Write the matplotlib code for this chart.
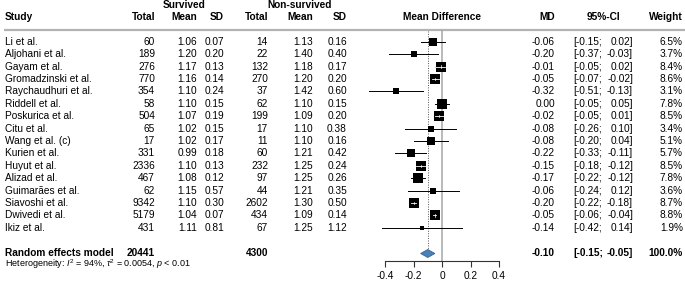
import matplotlib.pyplot as plt
import numpy as np

# forest plot data
studies = ["Li et al.", "Aljohani et al.", "Gayam et al.", "Gromadzinski et al.",
           "Raychaudhuri et al.", "Riddell et al.", "Poskurica et al.", "Citu et al.",
           "Wang et al. (c)", "Kurien et al.", "Huyut et al.", "Alizad et al.",
           "Guimarães et al.", "Siavoshi et al.", "Dwivedi et al.", "Ikiz et al."]
surv_n = [60, 189, 276, 770, 354, 58, 504, 65, 17, 331, 2336, 467, 62, 9342, 5179, 431]
surv_mean = [1.06, 1.20, 1.17, 1.16, 1.10, 1.10, 1.07, 1.02, 1.02, 0.99, 1.10, 1.08, 1.15, 1.10, 1.04, 1.11]
surv_sd = [0.07, 0.20, 0.13, 0.14, 0.24, 0.15, 0.19, 0.15, 0.17, 0.18, 0.13, 0.12, 0.57, 0.30, 0.07, 0.81]
non_n = [14, 22, 132, 270, 37, 62, 199, 17, 11, 60, 232, 97, 44, 2602, 434, 67]
non_mean = [1.13, 1.40, 1.18, 1.20, 1.42, 1.10, 1.09, 1.10, 1.10, 1.21, 1.25, 1.25, 1.21, 1.30, 1.09, 1.25]
non_sd = [0.16, 0.40, 0.17, 0.20, 0.60, 0.15, 0.20, 0.38, 0.16, 0.42, 0.24, 0.26, 0.35, 0.50, 0.14, 1.12]
md = [-0.06, -0.20, -0.01, -0.05, -0.32, 0.00, -0.02, -0.08, -0.08, -0.22, -0.15, -0.17, -0.06, -0.20, -0.05, -0.14]
ci_lo = [-0.15, -0.37, -0.05, -0.07, -0.51, -0.05, -0.05, -0.26, -0.20, -0.33, -0.18, -0.22, -0.24, -0.22, -0.06, -0.42]
ci_hi = [0.02, -0.03, 0.02, -0.02, -0.13, 0.05, 0.01, 0.10, 0.04, -0.11, -0.12, -0.12, 0.12, -0.18, -0.04, 0.14]
weight = [6.5, 3.7, 8.4, 8.6, 3.1, 7.8, 8.5, 3.4, 5.1, 5.7, 8.5, 7.8, 3.6, 8.7, 8.8, 1.9]

pooled_label = "Random effects model"
pooled_surv_n = 20441
pooled_non_n = 4300
pooled_md = -0.10
pooled_lo = -0.15
pooled_hi = -0.05
het_text = r"Heterogeneity: $I^2$ = 94%, $\tau^2$ = 0.0054, $p$ < 0.01"

x_ticks = [-0.4, -0.2, 0, 0.2, 0.4]
x_tick_labels = ["-0.4", "-0.2", "0", "0.2", "0.4"]

plt.rcParams['font.family'] = ['Liberation Sans', 'DejaVu Sans']
plt.rcParams['axes.unicode_minus'] = False
plt.rcParams['mathtext.fontset'] = 'custom'
plt.rcParams['mathtext.rm'] = 'Liberation Sans'
plt.rcParams['mathtext.it'] = 'Liberation Sans:italic'

W, H = 685, 283
fs = 7.3

fig = plt.figure(figsize=(W / 100, H / 100), dpi=100)

# full-figure axes in pixel units for the table text
tab = fig.add_axes([0, 0, 1, 1])
tab.set_xlim(0, W)
tab.set_ylim(H, 0)
tab.axis('off')

# forest axes: 0 sits at x=442 px, 142.5 px per unit, bottom axis at y=261 px
px_per_unit = 142.5
x0_px = 442
axis_y = 261
xl = (-0.6, 0.6)
left_px = x0_px + xl[0] * px_per_unit
width_px = (xl[1] - xl[0]) * px_per_unit
fp = fig.add_axes([left_px / W, (H - axis_y) / H, width_px / W, axis_y / H])
fp.set_xlim(*xl)
fp.set_ylim(axis_y, 0)
fp.patch.set_visible(False)
for s in ['top', 'left', 'right']:
    fp.spines[s].set_visible(False)
fp.spines['bottom'].set_bounds(-0.4, 0.4)
fp.spines['bottom'].set_color('#333333')
fp.spines['bottom'].set_linewidth(0.8)
fp.set_yticks([])
fp.set_xticks(x_ticks)
fp.set_xticklabels(x_tick_labels)
fp.tick_params(axis='x', length=4.3, width=0.8, color='#333333', labelsize=fs, pad=3)

row_y = 41.7 + 12.4 * np.arange(len(studies))
pooled_y = 253.5
header_line_y = 30

# header
bold = dict(fontsize=fs, fontweight='bold', va='center')
tab.text(184, 5.5, "Survived", ha='center', **bold)
tab.text(300, 5.5, "Non-survived", ha='center', **bold)
tab.text(5, 17.5, "Study", ha='left', **bold)
for x, lab in [(155, "Total"), (197, "Mean"), (224, "SD"), (268, "Total"),
               (313, "Mean"), (347, "SD"), (555, "MD"), (683, "Weight")]:
    tab.text(x, 17.5, lab, ha='right', **bold)
tab.text(442, 17.5, "Mean Difference", ha='center', **bold)
tab.text(603, 17.5, "95%-CI", ha='center', **bold)
tab.plot([4, W], [header_line_y, header_line_y], color='#b3b3b3', lw=1.6, solid_capstyle='butt')

# study rows
norm = dict(fontsize=fs, va='center')
for i, y in enumerate(row_y):
    tab.text(5, y, studies[i], ha='left', **norm)
    tab.text(155, y, f"{surv_n[i]}", ha='right', **norm)
    tab.text(197, y, f"{surv_mean[i]:.2f}", ha='right', **norm)
    tab.text(224, y, f"{surv_sd[i]:.2f}", ha='right', **norm)
    tab.text(268, y, f"{non_n[i]}", ha='right', **norm)
    tab.text(313, y, f"{non_mean[i]:.2f}", ha='right', **norm)
    tab.text(347, y, f"{non_sd[i]:.2f}", ha='right', **norm)
    tab.text(555, y, f"{md[i]:.2f}", ha='right', **norm)
    tab.text(573, y, f"[{ci_lo[i]:.2f};", ha='left', **norm)
    tab.text(633, y, f"{ci_hi[i]:.2f}]", ha='right', **norm)
    tab.text(683, y, f"{weight[i]:.1f}%", ha='right', **norm)

# pooled row
tab.text(5, pooled_y, pooled_label, ha='left', **bold)
tab.text(155, pooled_y, f"{pooled_surv_n}", ha='right', **bold)
tab.text(268, pooled_y, f"{pooled_non_n}", ha='right', **bold)
tab.text(555, pooled_y, f"{pooled_md:.2f}", ha='right', **bold)
tab.text(573, pooled_y, f"[{pooled_lo:.2f};", ha='left', **bold)
tab.text(633, pooled_y, f"{pooled_hi:.2f}]", ha='right', **bold)
tab.text(683, pooled_y, "100.0%", ha='right', **bold)
tab.text(5, 264.5, het_text, ha='left', va='center', fontsize=6.5)

# reference lines
fp.plot([0, 0], [header_line_y + 1, axis_y], color='#a6a6a6', lw=1.1, zorder=1)
fp.plot([pooled_md, pooled_md], [header_line_y + 1, pooled_y - 4], color='#555555',
        lw=0.7, ls=(0, (1, 1.5)), zorder=1)

# confidence intervals and squares (side ~ sqrt(weight))
for i, y in enumerate(row_y):
    side_px = 3.4 * np.sqrt(weight[i])
    side_u = side_px / px_per_unit
    fp.plot([ci_lo[i], ci_hi[i]], [y, y], color='black', lw=0.7, zorder=2)
    fp.plot(md[i], y, marker='s', ms=side_px * 0.72, color='black', mew=0, zorder=3)
    if ci_hi[i] - ci_lo[i] <= side_u * 1.05:
        fp.plot([ci_lo[i], ci_hi[i]], [y, y], color='white', lw=0.6, zorder=4)
        fp.plot([md[i], md[i]], [y - 1.2, y + 1.2], color='white', lw=0.5, zorder=4)

# pooled diamond
half_h = 4
fp.fill([pooled_lo, pooled_md, pooled_hi, pooled_md],
        [pooled_y, pooled_y - half_h, pooled_y, pooled_y + half_h],
        facecolor='#4a80b8', edgecolor='#34669a', lw=0.6, zorder=3)

fig.savefig('out.png', dpi=100)
